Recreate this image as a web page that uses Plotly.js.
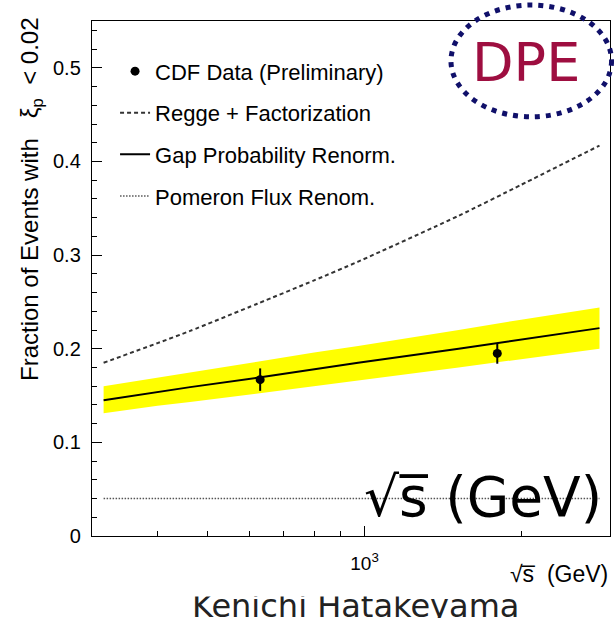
<!DOCTYPE html>
<html>
<head>
<meta charset="utf-8">
<script src="https://cdn.plot.ly/plotly-3.0.1.min.js"></script>
<style>
  html, body { margin: 0; padding: 0; background: #ffffff; }
  #chart { width: 614px; height: 618px; }
</style>
</head>
<body>
<div id="chart"></div>
<script>
// Model curves sampled along sqrt(s) in GeV
const sqrtS = [315, 400, 462, 622, 800, 972, 1517, 2000, 2830];
const reggeFact = [0.185, 0.206, 0.219, 0.248, 0.273, 0.293, 0.342, 0.375, 0.417];
const gapRenorm = [0.145, 0.154, 0.159, 0.169, 0.178, 0.185, 0.200, 0.210, 0.222];
const gapBandHigh = [0.160, 0.169, 0.175, 0.186, 0.196, 0.203, 0.220, 0.231, 0.244];
const gapBandLow = [0.131, 0.139, 0.143, 0.152, 0.160, 0.166, 0.180, 0.189, 0.200];
const fluxRenorm = [0.040, 0.040, 0.040, 0.040, 0.040, 0.040, 0.040, 0.040, 0.040];

// CDF measurements
const cdfSqrtS = [630, 1800];
const cdfFraction = [0.167, 0.195];
const cdfError = [0.012, 0.011];

// Axis ticks
const yTickVals = [0, 0.1, 0.2, 0.3, 0.4, 0.5];
const xTickVals = [1000];
const xTickText = ['10<sup>3</sup>'];
const xMinorVals = [400, 500, 600, 700, 800, 900, 2000];

const legendNames = [
  'CDF Data (Preliminary)',
  'Regge + Factorization',
  'Gap Probability Renorm.',
  'Pomeron Flux Renom.'
];

const helv = 'Liberation Sans, Arial, Helvetica, sans-serif';
const comic = 'DejaVu Sans, Verdana, sans-serif';

const traces = [
  { x: sqrtS, y: gapBandLow, type: 'scatter', mode: 'lines',
    line: { width: 0 }, showlegend: false, hoverinfo: 'skip' },
  { x: sqrtS, y: gapBandHigh, type: 'scatter', mode: 'lines',
    line: { width: 0 }, fill: 'tonexty', fillcolor: '#ffff00',
    showlegend: false, hoverinfo: 'skip' },
  { x: sqrtS, y: reggeFact, type: 'scatter', mode: 'lines', name: legendNames[1],
    legendgroup: 'g2', legendrank: 2, line: { shape: 'spline', smoothing: 0.6, color: '#333333', width: 2, dash: '4px,3px' } },
  { x: sqrtS, y: gapRenorm, type: 'scatter', mode: 'lines', name: legendNames[2],
    legendgroup: 'g3', legendrank: 3,
    line: { color: '#000000', width: 2 } },
  { x: sqrtS, y: fluxRenorm, type: 'scatter', mode: 'lines', name: legendNames[3],
    legendgroup: 'g4', legendrank: 4,
    line: { color: '#555555', width: 1.5, dash: '1.5px,1.5px' } },
  { x: cdfSqrtS, y: cdfFraction, type: 'scatter', mode: 'markers', name: legendNames[0],
    legendgroup: 'g1', legendrank: 1,
    marker: { color: '#000000', size: 9 },
    error_y: { type: 'data', array: cdfError, visible: true, color: '#000000', thickness: 2, width: 0 } }
];

const layout = {
  width: 614, height: 618, autosize: false,
  margin: { l: 92, r: 4, t: 21, b: 82 },
  paper_bgcolor: '#ffffff', plot_bgcolor: '#ffffff',
  font: { family: helv, color: '#000000' },
  showlegend: true,
  legend: {
    x: 0.0445, xanchor: 'left', y: 0.943, yanchor: 'top',
    bgcolor: 'rgba(0,0,0,0)', borderwidth: 0,
    font: { family: helv, size: 22, color: '#000000' },
    traceorder: 'grouped', tracegroupgap: 10
  },
  xaxis: {
    type: 'log', range: [2.476, 3.472],
    showgrid: false, zeroline: false,
    showline: true, linecolor: '#000000', linewidth: 1.2, mirror: true,
    ticks: 'inside', ticklen: 10, tickwidth: 1, tickcolor: '#000000',
    tickmode: 'array', tickvals: xTickVals, ticktext: xTickText,
    tickfont: { family: helv, size: 19, color: '#000000' },
    ticklabelstandoff: 10,
    minor: { tickmode: 'array', tickvals: xMinorVals, ticks: 'inside', ticklen: 5, tickwidth: 1, tickcolor: '#000000', showgrid: false }
  },
  yaxis: {
    range: [0, 0.55],
    showgrid: false, zeroline: false,
    showline: true, linecolor: '#000000', linewidth: 1.2, mirror: true,
    ticks: 'inside', ticklen: 10, tickwidth: 1, tickcolor: '#000000',
    tickmode: 'array', tickvals: yTickVals,
    tickfont: { family: helv, size: 20, color: '#000000' },
    ticklabelstandoff: 6,
    minor: { dtick: 0.02, ticks: 'inside', ticklen: 5, tickwidth: 1, tickcolor: '#000000', showgrid: false }
  },
  shapes: [
    { type: 'circle', xref: 'paper', yref: 'paper',
      x0: 0.693, x1: 1.003, y0: 0.814, y1: 1.031,
      line: { color: '#10106a', width: 5, dash: '5px,6px' } }
  ],
  annotations: [
    { text: 'Kenichi Hatakeyama', xref: 'paper', yref: 'paper',
      x: 0.508, y: -0.135, xanchor: 'center', yanchor: 'middle', showarrow: false,
      font: { family: comic, size: 32, color: '#222222' } },
    { text: ' ', xref: 'paper', yref: 'paper',
      x: 0.479, y: -0.1184, xanchor: 'center', yanchor: 'bottom', showarrow: false,
      width: 340, height: 21, bgcolor: '#ffffff', borderpad: 0 },
    { text: 'Fraction of Events with&nbsp;&nbsp;&nbsp;ξ<sub>p</sub>&nbsp;&nbsp;&lt;&nbsp;0.02', xref: 'paper', yref: 'paper',
      x: -0.1178, y: 0.297, xanchor: 'center', yanchor: 'bottom', textangle: -90, showarrow: false,
      font: { family: helv, size: 24, color: '#000000' } },
    { text: '√s̅  (GeV)', xref: 'paper', yref: 'paper',
      x: 1.0, y: -0.0738, xanchor: 'right', yanchor: 'middle', showarrow: false,
      font: { family: helv, size: 23, color: '#000000' } },
    { text: 'DPE', xref: 'paper', yref: 'paper',
      x: 0.838, y: 0.920, xanchor: 'center', yanchor: 'middle', showarrow: false,
      font: { family: comic, size: 54, color: '#9e0e40' } },
    { text: '√s̅ (GeV)', xref: 'paper', yref: 'paper',
      x: 0.755, y: 0.076, xanchor: 'center', yanchor: 'middle', showarrow: false,
      font: { family: comic, size: 55, color: '#000000' } }
  ]
};

Plotly.newPlot('chart', traces, layout, { displayModeBar: false, staticPlot: true });
</script>
</body>
</html>
